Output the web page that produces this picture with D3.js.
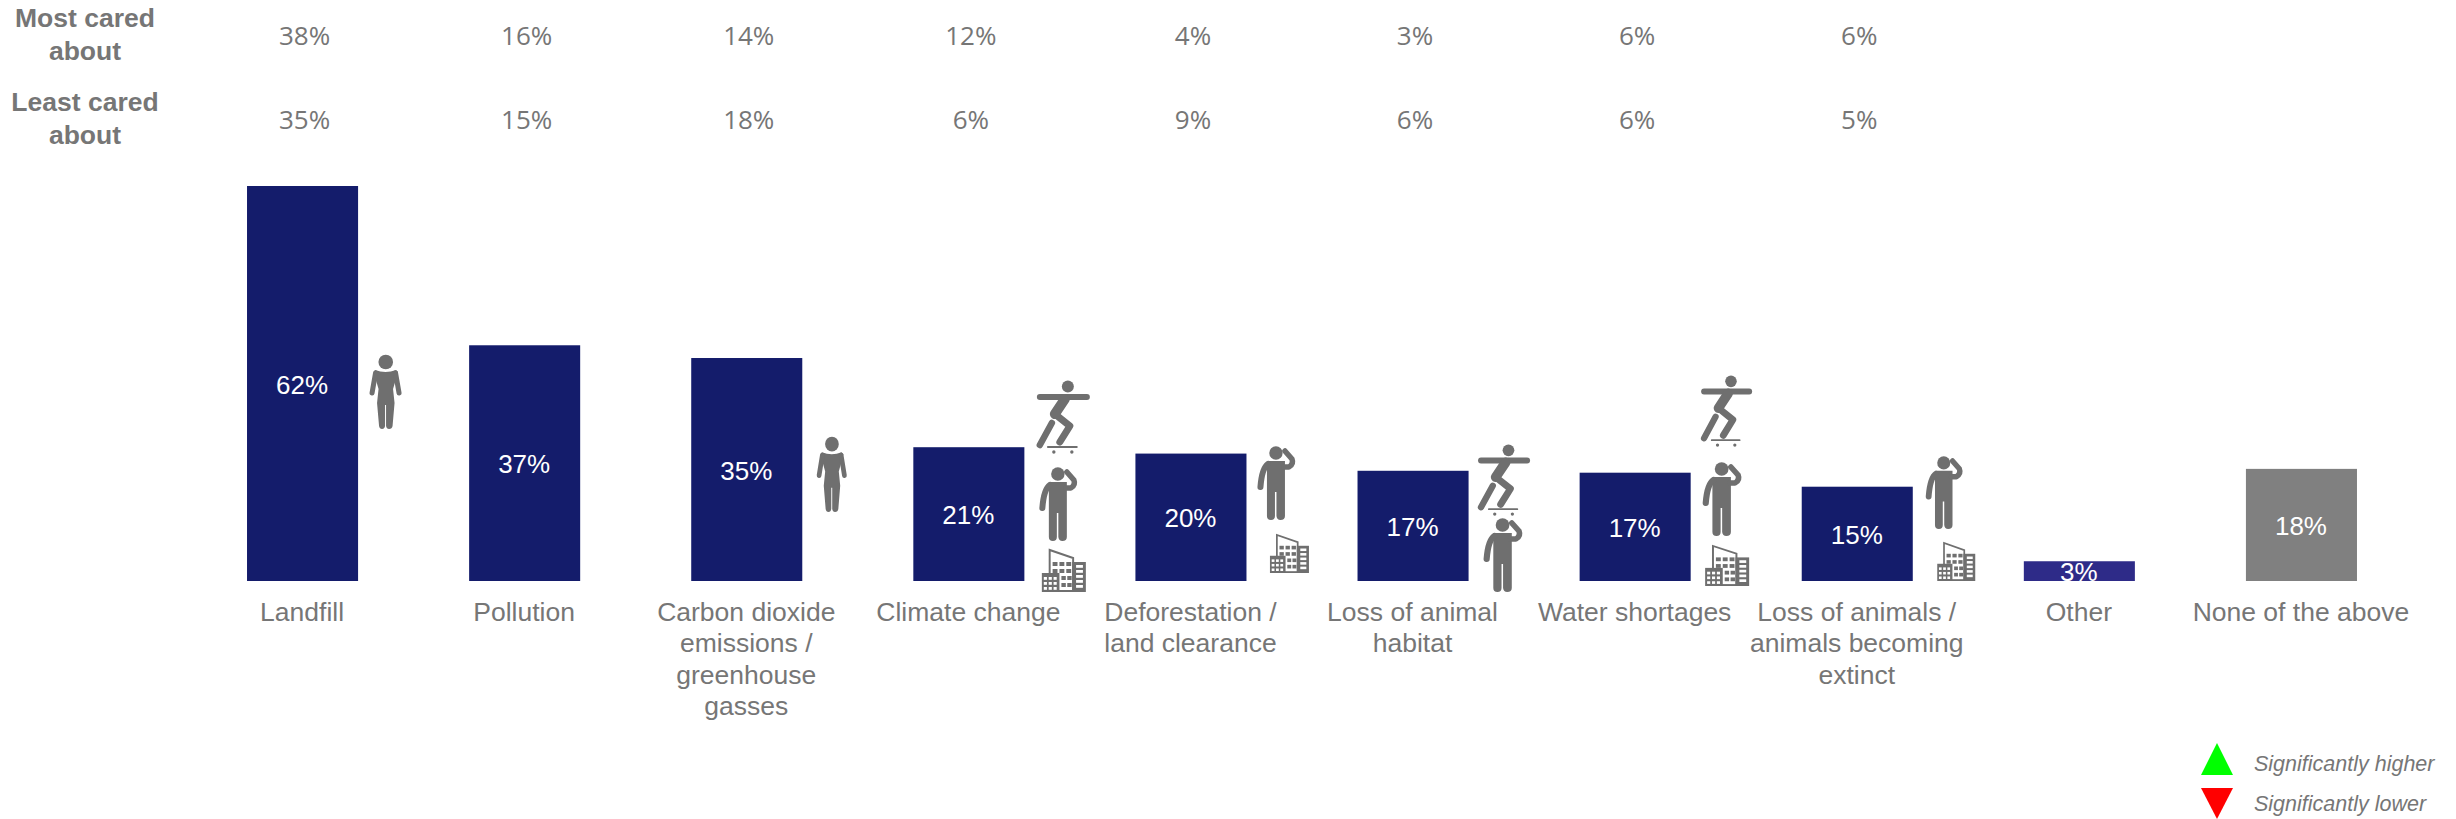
<!DOCTYPE html>
<html><head><meta charset="utf-8">
<style>html,body{margin:0;padding:0;background:#fff}svg{display:block}</style>
<script src="https://cdn.jsdelivr.net/npm/d3@7/dist/d3.min.js"></script>
</head><body><div id="chart"></div>
<script>
// ---- data ----
const categories = ["Landfill","Pollution","Carbon dioxide\nemissions /\ngreenhouse\ngasses","Climate change","Deforestation /\nland clearance","Loss of animal\nhabitat","Water shortages","Loss of animals /\nanimals becoming\nextinct","Other","None of the above"];
const values = [62,37,35,21,20,17.3,17,14.8,3.1,17.6];
const mostCared = [38,16,14,12,4,3,6,6];
const leastCared = [35,15,18,6,9,6,6,5];
const rowLabels = ["Most cared\nabout","Least cared\nabout"];
const legendLabels = ["Significantly higher","Significantly lower"];
const categoryIcons = [["female"],[],["female"],["skater","thinker","building"],["thinker","building"],["skater","thinker"],["skater","thinker","building"],["thinker","building"],[],[]];

// ---- layout / style ----
const W=2456,H=819,TEXT="#767676",ICON="#6f6f6f";
const barColors = i => i===9 ? "#808080" : i===8 ? "#2e2b88" : "#141c6b";
// icon slot offsets: x-left from bar centre, top above baseline
const iconSlots = [
 [[66.5,226,33,74]],[],
 [[69.5,144,31,75]],
 [[68,202,53,76],[70,114,38,74],[73,32,44,43]],
 [[66,135,38,74],[79,47,39,39]],
 [[65,138,52,74],[70,63,39,74]],
 [[66,207,51,74],[67,119,39,74],[70,36,44,41]],
 [[68,125,37,73],[80,39,38,39]],
 [],[]
];
const baseW={female:[33,74],skater:[53,76],thinker:[38,74],building:[45,43]};

const svg=d3.select("#chart").append("svg").attr("width",W).attr("height",H).attr("viewBox",`0 0 ${W} ${H}`);
const SANS="'Liberation Sans',Arial,sans-serif";

const x=d3.scaleBand().domain(d3.range(categories.length)).range([191.5,2412.5]).paddingInner(0.5).paddingOuter(0.25);
const y=d3.scaleLinear().domain([0,62]).range([581,186]);

// icon definitions
const defs=svg.append("defs");
const female=defs.append("g").attr("id","female").attr("fill",ICON);
female.append("circle").attr("cx",16.7).attr("cy",7).attr("r",7.3);
female.append("path").attr("d","M6 15 Q16.5 19 27 15 L29 17 L24 34 L25.5 48 L23.5 71 Q23 74 20 74 Q17.5 74 17 71 L17 50 L16 50 L16 71 Q15.5 74 13 74 Q10.5 74 10 71 L8 48 L9.5 34 L4.5 17 Z");
female.append("path").attr("d","M6.5 18 L3 38 M26.5 18 L30 38").attr("stroke",ICON).attr("stroke-width",5).attr("stroke-linecap","round").attr("fill","none");

const skater=defs.append("g").attr("id","skater").attr("fill","none").attr("stroke",ICON).attr("stroke-linecap","round").attr("stroke-linejoin","round");
skater.append("circle").attr("cx",31).attr("cy",7.5).attr("r",6).attr("fill",ICON).attr("stroke","none");
skater.append("path").attr("d","M3 18 L50 18").attr("stroke-width",6);
skater.append("path").attr("d","M28 20 L18 35").attr("stroke-width",10);
skater.append("path").attr("d","M18 35 L33 47 L23 63").attr("stroke-width",7);
skater.append("path").attr("d","M15 44 L3 66").attr("stroke-width",6.5);
skater.append("path").attr("d","M11 68 L40 68").attr("stroke-width",1.8);
skater.append("circle").attr("cx",17).attr("cy",73).attr("r",1.7).attr("fill",ICON).attr("stroke","none");
skater.append("circle").attr("cx",35).attr("cy",73).attr("r",1.7).attr("fill",ICON).attr("stroke","none");

const thinker=defs.append("g").attr("id","thinker");
thinker.append("circle").attr("cx",19).attr("cy",7).attr("r",6.7).attr("fill",ICON);
thinker.append("path").attr("fill",ICON).attr("d","M10 15 L28 15 L28 70 Q28 74 23.5 74 Q20 74 19.5 70 L19.5 46 L18 46 L18 70 Q18 74 14 74 Q10 74 10 70 Z");
thinker.append("path").attr("fill","none").attr("stroke",ICON).attr("stroke-width",6).attr("stroke-linecap","round").attr("d","M11 18 Q5 22 3.5 41");
thinker.append("path").attr("fill","none").attr("stroke",ICON).attr("stroke-width",5.5).attr("stroke-linecap","round").attr("stroke-linejoin","round").attr("d","M27 21 L32 21 Q37 18 35 13 L28 5");

const building=defs.append("g").attr("id","building");
building.append("path").attr("fill","none").attr("stroke",ICON).attr("stroke-width",2).attr("d","M8 25 L8 1 L32 9 L32 43");
building.append("rect").attr("x",0).attr("y",24).attr("width",18).attr("height",19).attr("fill",ICON);
building.append("rect").attr("x",31).attr("y",13).attr("width",14).attr("height",30).attr("fill",ICON);
building.append("rect").attr("x",17).attr("y",41).attr("width",15).attr("height",2).attr("fill",ICON);
const gCols=[11,18,25], gRows=[13,20];
gRows.forEach(ry=>gCols.forEach(cx=>building.append("rect").attr("x",cx).attr("y",ry).attr("width",5).attr("height",4).attr("fill",ICON)));
[27,34].forEach(ry=>[20,26].forEach(cx=>building.append("rect").attr("x",cx).attr("y",ry).attr("width",4.5).attr("height",4).attr("fill",ICON)));
[28,33,38].forEach(ry=>[2,7,12].forEach(cx=>building.append("rect").attr("x",cx).attr("y",ry).attr("width",3.2).attr("height",2.8).attr("fill","#fff")));
[16,21,26,31,36].forEach(ry=>building.append("rect").attr("x",35).attr("y",ry).attr("width",7).attr("height",2.8).attr("fill","#fff"));

// bars
svg.append("g").selectAll("rect").data(values).join("rect")
  .attr("x",(d,i)=>x(i)).attr("y",d=>y(d)).attr("width",x.bandwidth()).attr("height",d=>y(0)-y(d))
  .attr("fill",(d,i)=>barColors(i));

// bar labels
svg.append("g").selectAll("text").data(values).join("text")
  .attr("x",(d,i)=>x(i)+x.bandwidth()/2-0.5).attr("y",d=>(y(d)+y(0))/2+10)
  .attr("text-anchor","middle").attr("fill","#fff").attr("font-family",SANS).attr("font-size",26)
  .text(d=>Math.round(d)+"%");

// category labels via band axis
const axis=svg.append("g").attr("transform","translate(0,581)")
  .call(d3.axisBottom(x).tickSize(0).tickPadding(0).tickFormat(()=>"")); 
axis.select(".domain").remove();
axis.selectAll(".tick text").each(function(d,i){
  const t=d3.select(this).attr("y",40).attr("dy",null).attr("fill",TEXT).attr("font-family",SANS).attr("font-size",26.5).attr("text-anchor","middle");
  categories[i].split("\n").forEach((ln,k)=>t.append("tspan").attr("x",-0.5).attr("y",40+k*31.3).text(ln));
});

// top table rows
[[mostCared,45],[leastCared,129]].forEach(([arr,by])=>{
  svg.append("g").selectAll("text").data(arr).join("text")
    .attr("x",(d,i)=>x(i)+x.bandwidth()/2+2).attr("y",by)
    .attr("text-anchor","middle").attr("fill",TEXT).attr("font-family","'Open Sans',sans-serif").attr("font-size",26)
    .text(d=>d+"%");
});
rowLabels.forEach((lab,r)=>{
  const t=svg.append("text").attr("text-anchor","middle").attr("fill",TEXT).attr("font-family",SANS).attr("font-weight","bold").attr("font-size",26.5);
  lab.split("\n").forEach((ln,k)=>t.append("tspan").attr("x",85).attr("y",[27,111][r]+k*33).text(ln));
});

// icons
categoryIcons.forEach((list,i)=>{
  list.forEach((name,k)=>{
    const s=iconSlots[i][k], b=baseW[name];
    const cx=x(i)+x.bandwidth()/2;
    svg.append("use").attr("href","#"+name)
      .attr("transform",`translate(${cx+s[0]},${581-s[1]}) scale(${s[2]/b[0]},${s[3]/b[1]})`);
  });
});

// legend
svg.append("path").attr("d","M2217 743 L2233 775 L2201 775 Z").attr("fill","#00ff00");
svg.append("path").attr("d","M2201 788 L2233 788 L2217 819 Z").attr("fill","#ff0000");
legendLabels.forEach((l,i)=>svg.append("text").attr("x",2254).attr("y",[771,811][i]).attr("fill",TEXT)
  .attr("font-family",SANS).attr("font-style","italic").attr("font-size",21.5).text(l));
</script></body></html>
